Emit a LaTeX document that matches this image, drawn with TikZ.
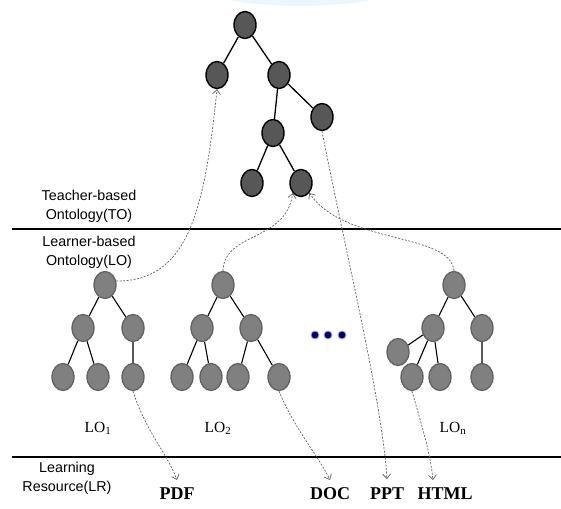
\documentclass[tikz,border=0pt]{standalone}
\usepackage{fontspec}
\setmainfont{Liberation Serif}
\setsansfont{Liberation Sans}
\usetikzlibrary{shapes.geometric, arrows.meta}
\colorlet{TONodeFill}{black!66}
\colorlet{LONodeFill}{black!50}
\colorlet{LinkGray}{black!60}
\colorlet{DotBlue}{blue!40!black}

\begin{document}
\begin{tikzpicture}[x=1pt, y=-1pt,
    tonode/.style={ellipse, draw=black, line width=1.4pt, fill=TONodeFill,
        minimum width=22pt, minimum height=27pt, inner sep=0pt},
    lonode/.style={ellipse, draw=black!62, line width=1.3pt, fill=LONodeFill,
        minimum width=22pt, minimum height=27pt, inner sep=0pt},
    edge/.style={line width=1.1pt},
    link/.style={draw=LinkGray, dash pattern=on 2pt off 1.5pt, line width=0.75pt,
        -{Straight Barb[length=4.5pt, width=8pt]}},
    layer/.style={font=\sffamily\fontsize{14.3}{19}\selectfont, align=center},
    lolabel/.style={font=\fontsize{15.5}{18}\selectfont},
    format/.style={font=\bfseries\fontsize{18}{20}\selectfont},
    dotnode/.style={circle, fill=DotBlue, draw=blue!35, line width=0.8pt,
        minimum size=8pt, inner sep=0pt}]

    \useasboundingbox (0,0) rectangle (561,508);
    \fill[cyan!9] (300,-22) ellipse (115 and 28);

    % Teacher-based ontology
    \node[tonode] (t)    at (245,25)  {};
    \node[tonode] (t1)   at (217,75)  {};
    \node[tonode] (t2)   at (279,75)  {};
    \node[tonode] (t21)  at (273,133) {};
    \node[tonode] (t22)  at (322,117) {};
    \node[tonode] (t211) at (252,183) {};
    \node[tonode] (t212) at (301,183) {};
    \draw[edge, line width=1.3pt] (t) -- (t1) (t) -- (t2) (t2) -- (t21) (t2) -- (t22)
        (t21) -- (t211) (t21) -- (t212);

    % Layer borders
    \draw[line width=1.6pt] (12,229) -- (561,229);
    \draw[line width=1.6pt] (12,457) -- (561,457);

    \node[layer] (tolayer) at (89,206) {Teacher-based\\Ontology(TO)};
    \node[layer] (lolayer) at (89,252) {Learner-based\\Ontology(LO)};
    \node[layer] (lrlayer) at (67,478) {Learning\\Resource(LR)};

    % LO 1
    \node[lonode] (a)   at (105,285) {};
    \node[lonode] (a1)  at (83,328)  {};
    \node[lonode] (a2)  at (133,328) {};
    \node[lonode] (a11) at (63,377)  {};
    \node[lonode] (a12) at (98,377)  {};
    \node[lonode] (a21) at (133,377) {};
    \draw[edge] (a) -- (a1) (a) -- (a2) (a1) -- (a11) (a1) -- (a12) (a2) -- (a21);

    % LO 2
    \node[lonode] (b)   at (223,285) {};
    \node[lonode] (b1)  at (202,328) {};
    \node[lonode] (b2)  at (251,328) {};
    \node[lonode] (b11) at (182,377) {};
    \node[lonode] (b12) at (211,377) {};
    \node[lonode] (b21) at (238,377) {};
    \node[lonode] (b22) at (279,377) {};
    \draw[edge] (b) -- (b1) (b) -- (b2) (b1) -- (b11) (b1) -- (b12)
        (b2) -- (b21) (b2) -- (b22);

    % LO n
    \node[lonode] (c)   at (454,285) {};
    \node[lonode] (c1)  at (433,328) {};
    \node[lonode] (c2)  at (482,328) {};
    \node[lonode] (c10) at (398,352) {};
    \node[lonode] (c11) at (412,377) {};
    \node[lonode] (c12) at (440,377) {};
    \node[lonode] (c21) at (482,377) {};
    \draw[edge] (c) -- (c1) (c) -- (c2) (c1) -- (c10) (c1) -- (c11) (c1) -- (c12)
        (c2) -- (c21);

    \foreach \x [count=\i] in {315,328,342}
        \node[dotnode] (dot\i) at (\x,335) {};

    \node[lolabel] (lo1) at (98,428)  {LO\textsubscript{1}};
    \node[lolabel] (lo2) at (218,428) {LO\textsubscript{2}};
    \node[lolabel] (lon) at (453,428) {LO\textsubscript{n}};

    % Learning resources
    \node[format] (pdf)  at (177,494) {PDF};
    \node[format] (doc)  at (330,494) {DOC};
    \node[format] (ppt)  at (387,494) {PPT};
    \node[format] (html) at (445,494) {HTML};

    \coordinate (pdftip)  at (177,480);
    \coordinate (doctip)  at (330,480);
    \coordinate (ppttip)  at (387,479);
    \coordinate (htmltip) at (433,480);

    % Mappings
    \draw[link] (a.20) .. controls (190,282) and (205,205) .. (t1.south);
    \draw[link] (b.north) .. controls (224,232) and (286,242) .. (t212.south west);
    \draw[link] (c.north) .. controls (450,232) and (345,245) .. (t212.south east);
    \draw[link] (t22.south) .. controls (345,250) and (382,400) .. (ppttip);
    \draw[link] (a21.south) .. controls (145,430) and (168,455) .. (pdftip);
    \draw[link] (b22.south) .. controls (295,430) and (318,455) .. (doctip);
    \draw[link] (c11.south) .. controls (420,420) and (430,450) .. (htmltip);
\end{tikzpicture}
\end{document}
